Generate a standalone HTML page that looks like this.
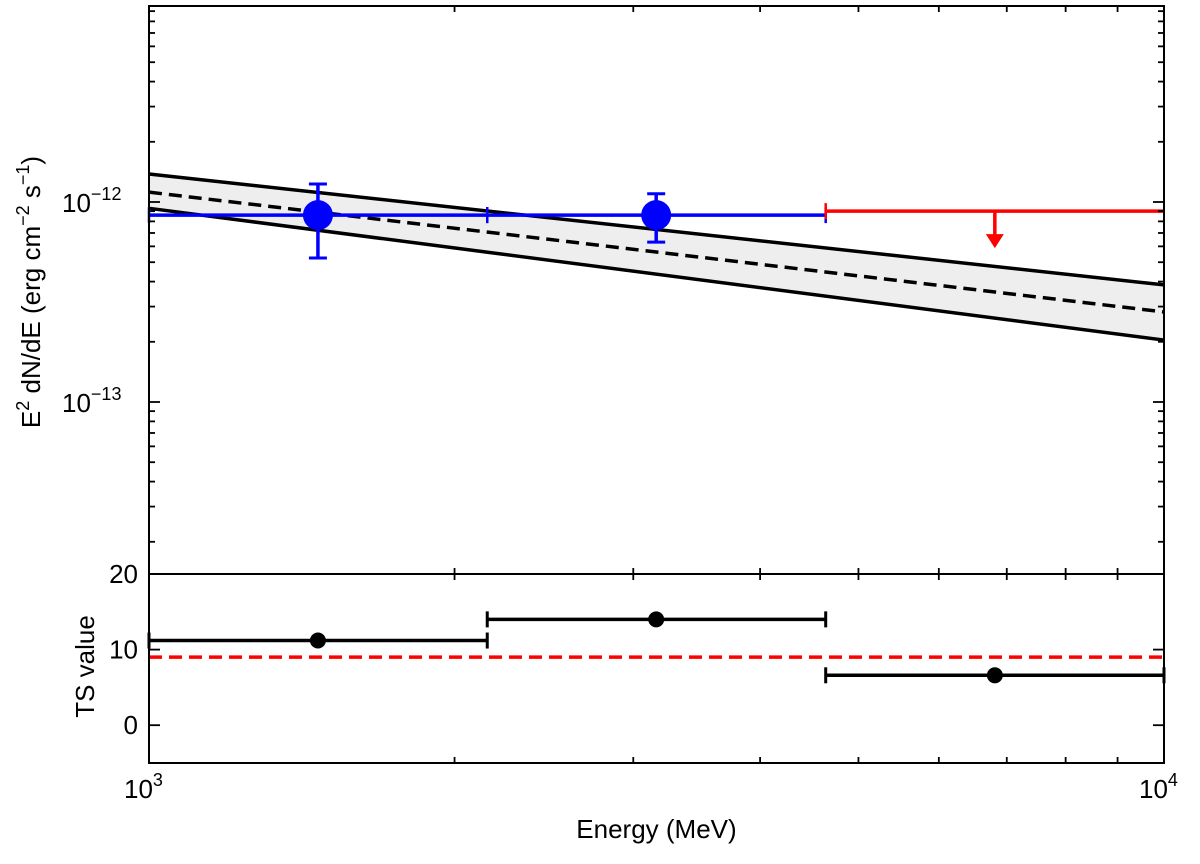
<!DOCTYPE html>
<html><head><meta charset="utf-8">
<style>
body{margin:0;background:#fff;}
svg{display:block;font-family:"Liberation Sans","DejaVu Sans",sans-serif;}
</style></head>
<body>
<svg id="chart" width="1200" height="864" viewBox="0 0 1200 864" xmlns="http://www.w3.org/2000/svg"></svg>
<script>
// ---- data ----
const fluxPointE = [1467, 3160];
const fluxPointY = [8.6e-13, 8.6e-13];
const fluxErrLo = [5.25e-13, 6.3e-13];
const fluxErrHi = [1.23e-12, 1.1e-12];
const binLo = [1000, 2154, 4642];
const binHi = [2154, 4642, 10000];
const ulE = [6813];
const ulY = [9.0e-13];
const modelE = [1000, 10000];
const modelBest = [1.12e-12, 2.82e-13];
const modelUpper = [1.38e-12, 3.85e-13];
const modelLower = [9.3e-13, 2.04e-13];
const tsE = [1467, 3160, 6813];
const tsVal = [11.2, 14.0, 6.6];
const tsThreshold = [9];
const tsTicks = [0, 10, 20];

// ---- axes ----
const X0 = 149, X1 = 1164;
const T0 = 6, T1 = 574, B0 = 574, B1 = 763;
const xMin = 3, xMax = 4;
const yTopMax = -11.02, yTopMin = -13.86;
const tsMin = -5, tsMax = 20;
const sx = e => X0 + (Math.log10(e) - xMin) / (xMax - xMin) * (X1 - X0);
const sy = f => T0 + (yTopMax - Math.log10(f)) / (yTopMax - yTopMin) * (T1 - T0);
const sts = v => B0 + (tsMax - v) / (tsMax - tsMin) * (B1 - B0);

const svg = document.getElementById('chart');
const NS = 'http://www.w3.org/2000/svg';
function mk(tag, attrs, parent) {
  const el = document.createElementNS(NS, tag);
  for (const k in attrs) el.setAttribute(k, attrs[k]);
  (parent || svg).appendChild(el);
  return el;
}

const band = mk('polygon', {points: [
  [sx(modelE[0]), sy(modelUpper[0])], [sx(modelE[1]), sy(modelUpper[1])],
  [sx(modelE[1]), sy(modelLower[1])], [sx(modelE[0]), sy(modelLower[0])]
].map(p => p.join(',')).join(' '), fill: '#eeeeee'});


const up = mk('line', {x1: sx(modelE[0]), y1: sy(modelUpper[0]), x2: sx(modelE[1]), y2: sy(modelUpper[1]), stroke: '#000', 'stroke-width': 3.5});


const lo = mk('line', {x1: sx(modelE[0]), y1: sy(modelLower[0]), x2: sx(modelE[1]), y2: sy(modelLower[1]), stroke: '#000', 'stroke-width': 3.5});


const best = mk('line', {x1: sx(modelE[0]), y1: sy(modelBest[0]), x2: sx(modelE[1]), y2: sy(modelBest[1]), stroke: '#000', 'stroke-width': 3.5, 'stroke-dasharray': '13,7'});



for (let i = 0; i < fluxPointE.length; i++) {
  const g = mk('g', {});
  
  
  const cx = sx(fluxPointE[i]), cy = sy(fluxPointY[i]);
  mk('line', {x1: sx(binLo[i]), y1: cy, x2: sx(binHi[i]), y2: cy, stroke: '#0000ff', 'stroke-width': 3.5}, g);
  mk('line', {x1: sx(binLo[i]), y1: cy - 8, x2: sx(binLo[i]), y2: cy + 8, stroke: '#0000ff', 'stroke-width': 2.5}, g);
  mk('line', {x1: sx(binHi[i]), y1: cy - 8, x2: sx(binHi[i]), y2: cy + 8, stroke: '#0000ff', 'stroke-width': 2.5}, g);
  mk('line', {x1: cx, y1: sy(fluxErrHi[i]), x2: cx, y2: sy(fluxErrLo[i]), stroke: '#0000ff', 'stroke-width': 3.5}, g);
  mk('line', {x1: cx - 9, y1: sy(fluxErrHi[i]), x2: cx + 9, y2: sy(fluxErrHi[i]), stroke: '#0000ff', 'stroke-width': 3}, g);
  mk('line', {x1: cx - 9, y1: sy(fluxErrLo[i]), x2: cx + 9, y2: sy(fluxErrLo[i]), stroke: '#0000ff', 'stroke-width': 3}, g);
  mk('circle', {cx: cx, cy: cy, r: 15, fill: '#0000ff'}, g);
}
for (let i = 0; i < ulE.length; i++) {
  const g = mk('g', {});
  
  
  const cx = sx(ulE[i]), cy = sy(ulY[i]);
  const j = binLo.length - 1;
  mk('line', {x1: sx(binLo[j]), y1: cy, x2: sx(binHi[j]), y2: cy, stroke: '#ff0000', 'stroke-width': 3.5}, g);
  mk('line', {x1: sx(binLo[j]), y1: cy - 8, x2: sx(binLo[j]), y2: cy + 8, stroke: '#ff0000', 'stroke-width': 2.5}, g);
  mk('line', {x1: cx, y1: cy, x2: cx, y2: cy + 25, stroke: '#ff0000', 'stroke-width': 3.5}, g);
  mk('polygon', {points: `${cx - 9},${cy + 23} ${cx + 9},${cy + 23} ${cx},${cy + 37}`, fill: '#ff0000'}, g);
}

const thr = mk('line', {x1: X0, y1: sts(tsThreshold[0]), x2: X1, y2: sts(tsThreshold[0]), stroke: '#ff0000', 'stroke-width': 3.5, 'stroke-dasharray': '13,7'});


for (let i = 0; i < tsE.length; i++) {
  const g = mk('g', {});
  
  
  const cy = sts(tsVal[i]);
  mk('line', {x1: sx(binLo[i]), y1: cy, x2: sx(binHi[i]), y2: cy, stroke: '#000', 'stroke-width': 3.5}, g);
  mk('line', {x1: sx(binLo[i]), y1: cy - 8, x2: sx(binLo[i]), y2: cy + 8, stroke: '#000', 'stroke-width': 3}, g);
  mk('line', {x1: sx(binHi[i]), y1: cy - 8, x2: sx(binHi[i]), y2: cy + 8, stroke: '#000', 'stroke-width': 3}, g);
  mk('circle', {cx: sx(tsE[i]), cy: cy, r: 8, fill: '#000'}, g);
}

const f1 = mk('rect', {x: X0, y: T0, width: X1 - X0, height: T1 - T0, fill: 'none', stroke: '#000', 'stroke-width': 2});


const f2 = mk('rect', {x: X0, y: B0, width: X1 - X0, height: B1 - B0, fill: 'none', stroke: '#000', 'stroke-width': 2});



const tk = mk('g', {stroke: '#000', 'stroke-width': 1.8});


for (let m = 2; m <= 9; m++) {
  const x = sx(1000 * m);
  [[T0, 1], [T1, -1], [B0, 1], [B1, -1]].forEach(([y, d]) => mk('line', {x1: x, y1: y, x2: x, y2: y + d * 6}, tk));
}
for (let p = -14; p <= -11; p++) {
  for (let m = 1; m <= 9; m++) {
    const v = m * Math.pow(10, p);
    const lv = Math.log10(v);
    if (lv > yTopMax || lv < yTopMin) continue;
    const y = sy(v), len = m === 1 ? 11 : 6;
    mk('line', {x1: X0, y1: y, x2: X0 + len, y2: y}, tk);
    mk('line', {x1: X1, y1: y, x2: X1 - len, y2: y}, tk);
  }
}
tsTicks.forEach(v => {
  mk('line', {x1: X0, y1: sts(v), x2: X0 + 11, y2: sts(v)}, tk);
  mk('line', {x1: X1, y1: sts(v), x2: X1 - 11, y2: sts(v)}, tk);
});

function txt(s, x, y, attrs, name) {
  const t = mk('text', Object.assign({x: x, y: y, 'font-size': 26, fill: '#000'}, attrs || {}));
  t.innerHTML = s;
  
  
  return t;
}
txt('10<tspan dy="-12" font-size="18">−12</tspan>', 62, sy(1e-12) + 10, {}, 'y-tick-1e-12');
txt('10<tspan dy="-12" font-size="18">−13</tspan>', 62, sy(1e-13) + 10, {}, 'y-tick-1e-13');
tsTicks.forEach(v => txt(String(v), 138, sts(v) + 9, {'text-anchor': 'end'}, 'ts-tick-' + v));
txt('10<tspan dy="-12" font-size="18">3</tspan>', X0 - 25, 798, {}, 'x-tick-1e3');
txt('10<tspan dy="-12" font-size="18">4</tspan>', X1 - 25, 798, {}, 'x-tick-1e4');
txt('Energy (MeV)', (X0 + X1) / 2, 838, {'text-anchor': 'middle'}, 'x-axis-title');
txt('TS value', 0, 0, {'text-anchor': 'middle', transform: `translate(94,${(B0 + B1) / 2 - 2}) rotate(-90)`}, 'ts-axis-title');
txt('E<tspan dy="-11" font-size="18">2</tspan><tspan dy="11"> dN/dE (erg cm</tspan><tspan dy="-11" font-size="18">−2</tspan><tspan dy="11"> s</tspan><tspan dy="-11" font-size="18">−1</tspan><tspan dy="11">)</tspan>',
  0, 0, {'text-anchor': 'middle', transform: `translate(40,292) rotate(-90)`}, 'y-axis-title');
</script>
</body></html>
